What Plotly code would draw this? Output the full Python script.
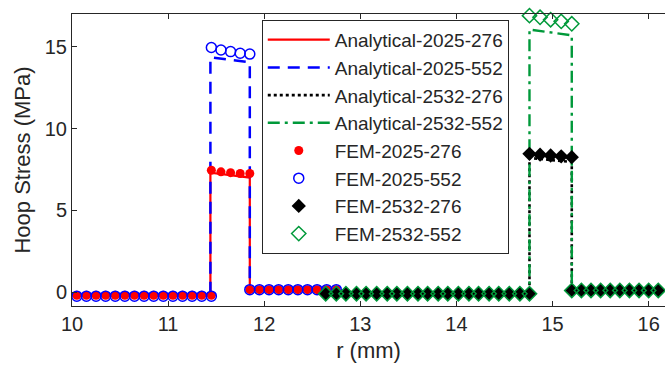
import plotly.graph_objects as go

# ---------------- data ----------------
# Analytical curves (piecewise)
ana_2025_x = [10.0, 11.44, 11.44, 11.85, 11.85, 12.75]
ana_2025_276_y = [-0.2, -0.2, 7.3, 7.0, 0.15, 0.15]
ana_2025_552_y = [-0.2, -0.2, 14.35, 14.05, 0.15, 0.15]

ana_2532_x = [12.6, 14.76, 14.76, 15.2, 15.2, 16.3]
ana_2532_276_y = [-0.1, -0.1, 8.2, 7.95, 0.1, 0.1]
ana_2532_552_y = [-0.1, -0.1, 16.05, 15.7, 0.1, 0.1]

# FEM results
fem_2025_x = [10.05, 10.15, 10.25, 10.35, 10.45, 10.55, 10.65, 10.75, 10.85, 10.95,
              11.05, 11.15, 11.25, 11.35, 11.45,
              11.45, 11.55, 11.65, 11.75, 11.85,
              11.85, 11.95, 12.05, 12.15, 12.25, 12.35, 12.45, 12.55, 12.65, 12.75]
fem_2025_276_y = [-0.2, -0.2, -0.2, -0.2, -0.2, -0.2, -0.2, -0.2, -0.2, -0.2,
                  -0.2, -0.2, -0.2, -0.2, -0.2,
                  7.45, 7.35, 7.3, 7.25, 7.25,
                  0.15, 0.15, 0.15, 0.15, 0.15, 0.15, 0.15, 0.15, 0.15, 0.15]
fem_2025_552_y = [-0.25, -0.25, -0.25, -0.25, -0.25, -0.25, -0.25, -0.25, -0.25, -0.25,
                  -0.25, -0.25, -0.25, -0.25, -0.25,
                  14.95, 14.8, 14.7, 14.6, 14.55,
                  0.15, 0.15, 0.15, 0.15, 0.15, 0.15, 0.15, 0.15, 0.15, 0.15]

fem_2532_x = [12.64, 12.75, 12.85, 12.96, 13.06, 13.17, 13.28, 13.38, 13.49, 13.6,
              13.7, 13.81, 13.91, 14.02, 14.13, 14.23, 14.34, 14.44, 14.55, 14.66, 14.76,
              14.76, 14.87, 14.98, 15.09, 15.2,
              15.2, 15.3, 15.4, 15.5, 15.6, 15.7, 15.8, 15.9, 16.0, 16.1, 16.2]
fem_2532_276_y = [-0.1, -0.1, -0.1, -0.1, -0.1, -0.1, -0.1, -0.1, -0.1, -0.1,
                  -0.1, -0.1, -0.1, -0.1, -0.1, -0.1, -0.1, -0.1, -0.1, -0.1, -0.1,
                  8.45, 8.4, 8.35, 8.3, 8.25,
                  0.1, 0.1, 0.1, 0.1, 0.1, 0.1, 0.1, 0.1, 0.1, 0.1, 0.1]
fem_2532_552_y = [-0.1, -0.1, -0.1, -0.1, -0.1, -0.1, -0.1, -0.1, -0.1, -0.1,
                  -0.1, -0.1, -0.1, -0.1, -0.1, -0.1, -0.1, -0.1, -0.1, -0.1, -0.1,
                  16.9, 16.8, 16.65, 16.55, 16.4,
                  0.1, 0.1, 0.1, 0.1, 0.1, 0.1, 0.1, 0.1, 0.1, 0.1, 0.1]

x_ticks = [10, 11, 12, 13, 14, 15, 16]
y_ticks = [0, 5, 10, 15]

RED = "#ff0000"
BLUE = "#0000ff"
BLACK = "#000000"
GREEN = "#00993a"
TXT = "#262626"

fig = go.Figure()

fig.add_trace(go.Scatter(x=ana_2025_x, y=ana_2025_276_y, mode="lines", name="Analytical-2025-276",
                         line=dict(color=RED, width=2.2, dash="solid")))
fig.add_trace(go.Scatter(x=ana_2025_x, y=ana_2025_552_y, mode="lines", name="Analytical-2025-552",
                         line=dict(color=BLUE, width=2.5, dash="12px,8px")))
fig.add_trace(go.Scatter(x=ana_2532_x, y=ana_2532_276_y, mode="lines", name="Analytical-2532-276",
                         line=dict(color=BLACK, width=2.6, dash="3px,3px")))
fig.add_trace(go.Scatter(x=ana_2532_x, y=ana_2532_552_y, mode="lines", name="Analytical-2532-552",
                         line=dict(color=GREEN, width=2.4, dash="12px,5px,3px,5px")))

fig.add_trace(go.Scatter(x=fem_2025_x, y=fem_2025_276_y, mode="markers", name="FEM-2025-276",
                         cliponaxis=False,
                         marker=dict(symbol="circle", size=9, color=RED, line=dict(width=0))))
fig.add_trace(go.Scatter(x=fem_2025_x, y=fem_2025_552_y, mode="markers", name="FEM-2025-552",
                         cliponaxis=False,
                         marker=dict(symbol="circle-open", size=10, color=BLUE, line=dict(width=1.5))))
fig.add_trace(go.Scatter(x=fem_2532_x, y=fem_2532_276_y, mode="markers", name="FEM-2532-276",
                         cliponaxis=False,
                         marker=dict(symbol="diamond", size=11, color=BLACK, line=dict(width=0))))
fig.add_trace(go.Scatter(x=fem_2532_x, y=fem_2532_552_y, mode="markers", name="FEM-2532-552",
                         cliponaxis=False,
                         marker=dict(symbol="diamond-open", size=11, color=GREEN, line=dict(width=1.5))))

fig.update_layout(
    width=665, height=365,
    margin=dict(l=72, r=0, t=14, b=59),
    paper_bgcolor="white", plot_bgcolor="white",
    font=dict(family="Liberation Sans, Arial, sans-serif", color=TXT, size=20),
    showlegend=True,
    legend=dict(x=0.32, y=0.98, xanchor="left", yanchor="top",
                bgcolor="white", bordercolor=TXT, borderwidth=1,
                font=dict(size=19, color=TXT), itemwidth=62,
                tracegroupgap=0),
)
fig.update_xaxes(range=[10, 16.17], tickvals=x_ticks, ticks="inside", ticklen=5,
                 tickcolor=TXT, showline=True, linecolor=TXT, linewidth=1, mirror="ticks",
                 showgrid=False, zeroline=False,
                 title=dict(text="r (mm)", font=dict(size=22), standoff=8))
fig.update_yaxes(range=[-0.85, 17.0], tickvals=y_ticks, ticks="inside", ticklen=5,
                 tickcolor=TXT, showline=True, linecolor=TXT, linewidth=1, mirror=False,
                 showgrid=False, zeroline=False,
                 title=dict(text="Hoop Stress (MPa)", font=dict(size=22), standoff=8))

fig.write_html("out.html")
